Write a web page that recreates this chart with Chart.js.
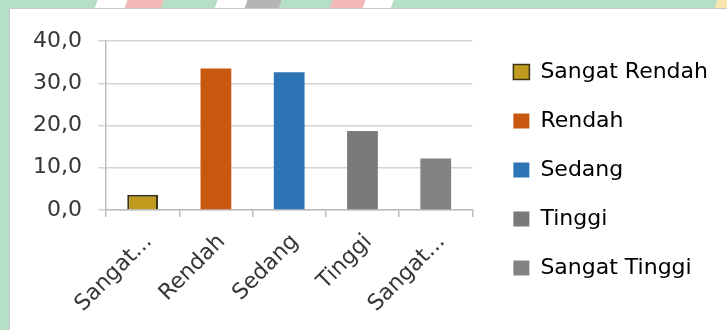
<!DOCTYPE html>
<html>
<head>
<meta charset="utf-8">
<script src="https://cdn.jsdelivr.net/npm/chart.js@4.4.0/dist/chart.umd.min.js"></script>
<style>
  html, body { margin: 0; padding: 0; }
  body { width: 727px; height: 330px; background: #b5dfc6; position: relative; overflow: hidden; }
  .deco { position: absolute; top: 0; height: 9px; transform: skewX(-20deg); }
  #panel { position: absolute; left: 9px; top: 8px; width: 718px; height: 322px; background: #fff;
           border-left: 1px solid #c9c9c9; border-top: 1px solid #c9c9c9; box-sizing: border-box; }
  #chart { position: absolute; left: 0; top: 0; }
</style>
</head>
<body>
<div class="deco" style="left:96px;width:30px;background:#fff"></div>
<div class="deco" style="left:126px;width:36px;background:#f3b9b9"></div>
<div class="deco" style="left:216px;width:30px;background:#fff"></div>
<div class="deco" style="left:246px;width:34px;background:#b5b5b5"></div>
<div class="deco" style="left:331px;width:33px;background:#f3b9b9"></div>
<div class="deco" style="left:364px;width:28px;background:#fff"></div>
<div class="deco" style="left:716px;width:20px;background:#fbe6b2"></div>
<div id="panel"><canvas id="chart" width="718" height="322"></canvas></div>
<script>
const categories = ['Sangat Rendah', 'Rendah', 'Sedang', 'Tinggi', 'Sangat Tinggi'];
const tickLabels = ['Sangat...', 'Rendah', 'Sedang', 'Tinggi', 'Sangat...'];
const values = [3.6, 33.5, 32.6, 18.7, 12.2];
const barColors = ['#c09b1e', '#c8580f', '#2e75b6', '#7a7a7a', '#838383'];
const borderColors = ['#3b3418', '#c8580f', '#2e75b6', '#7a7a7a', '#838383'];

const textColor = '#363636';

new Chart(document.getElementById('chart'), {
    type: 'bar',
    data: {
        labels: categories,
        datasets: [{
            data: values,
            backgroundColor: barColors,
            borderColor: borderColors,
            borderWidth: [2, 0, 0, 0, 0],
            categoryPercentage: 1,
            barPercentage: 0.42
        }]
    },
    options: {
        responsive: false,
        animation: false,
        layout: { padding: { left: 0, right: 10, top: 0, bottom: 0 } },
        scales: {
            x: {
                grid: { display: true, drawOnChartArea: false, tickLength: 7, color: '#bdbdbd', lineWidth: 1.5 },
                border: { color: '#bdbdbd', width: 1.5 },
                ticks: {
                    font: { family: 'DejaVu Sans', size: 22 },
                    color: textColor,
                    minRotation: 45,
                    maxRotation: 45,
                    padding: 12,
                    labelOffset: 6,
                    callback: (value, index) => tickLabels[index]
                },
                afterFit: (scale) => { scale.height = 121; }
            },
            y: {
                min: 0,
                max: 40,
                ticks: {
                    stepSize: 10,
                    font: { family: 'DejaVu Sans', size: 22 },
                    color: textColor,
                    padding: 16,
                    callback: (v) => v.toFixed(1).replace('.', ',')
                },
                grid: { color: '#d4d4d4', lineWidth: 1.5, tickLength: 8 },
                border: { color: '#bdbdbd', width: 1.5 },
                afterFit: (scale) => { scale.width = 96; }
            },
            gap: {
                position: 'right',
                display: true,
                grid: { display: false },
                border: { display: false },
                ticks: { display: false },
                afterFit: (scale) => { scale.width = 14; }
            }
        },
        plugins: {
            title: {
                display: true,
                text: ' ',
                fullSize: false,
                color: 'rgba(0,0,0,0)',
                font: { size: 10 },
                padding: { top: 20, bottom: 0 }
            },
            tooltip: { enabled: false },
            legend: {
                position: 'right',
                align: 'center',
                maxWidth: 300,
                labels: {
                    font: { family: 'DejaVu Sans', size: 22 },
                    color: textColor,
                    boxWidth: 16,
                    boxHeight: 15,
                    padding: 27,
                    generateLabels: (chart) => categories.map((name, i) => ({
                        text: name,
                        fillStyle: barColors[i],
                        strokeStyle: i === 0 ? '#3b3418' : barColors[i],
                        lineWidth: i === 0 ? 1.5 : 0,
                        hidden: false,
                        index: i
                    }))
                }
            }
        }
    }
});
</script>
</body>
</html>
